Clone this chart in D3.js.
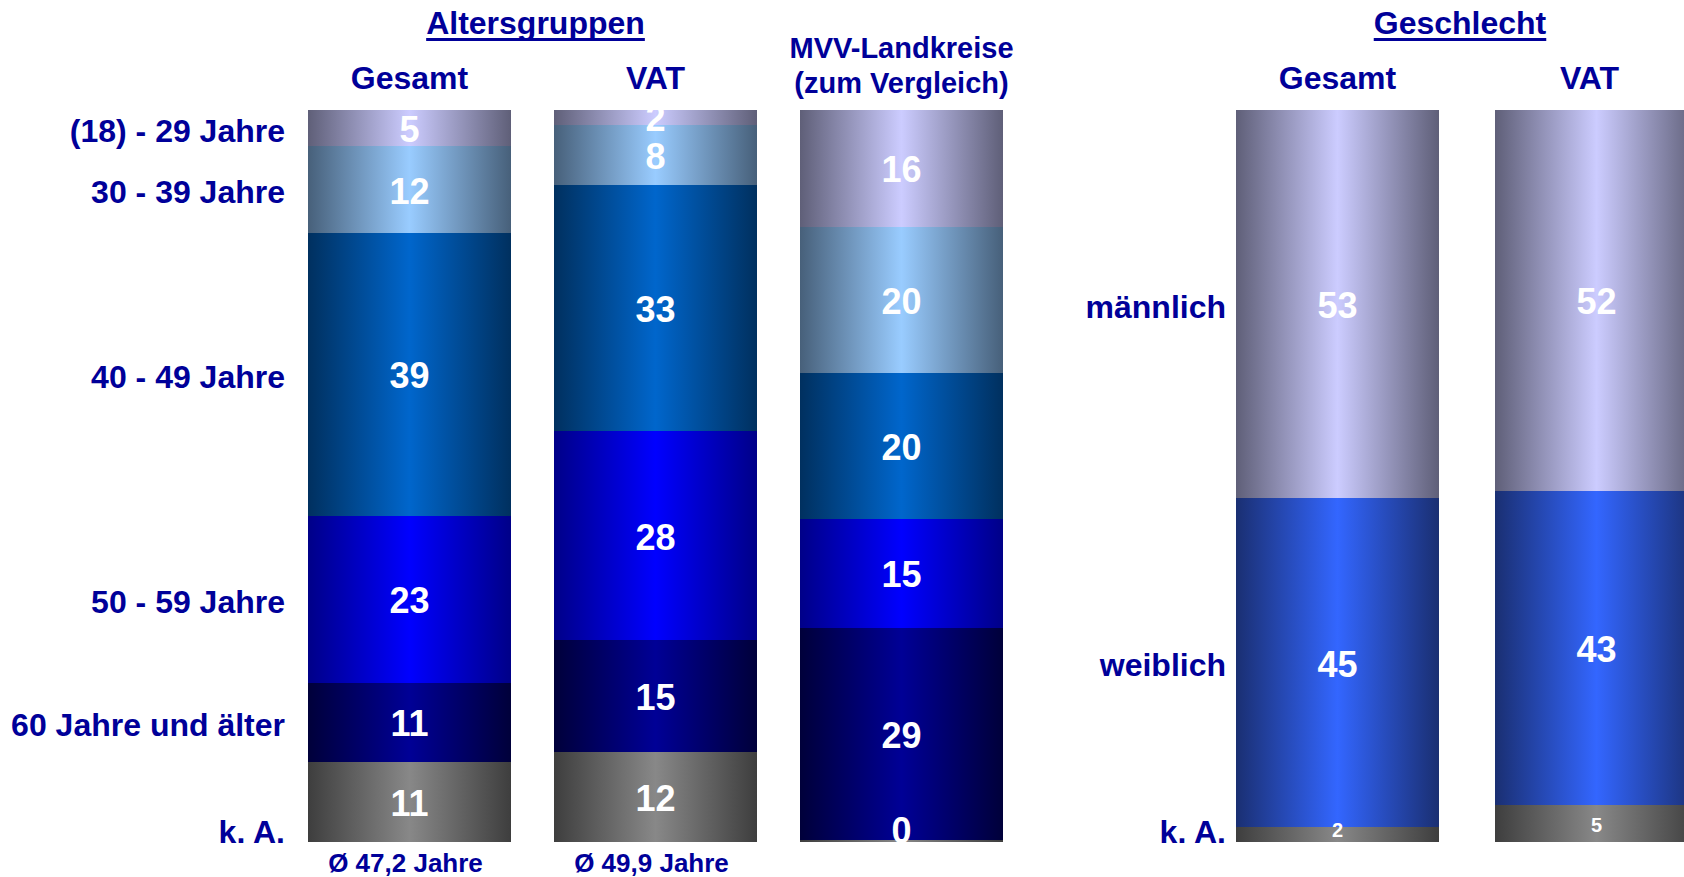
<!DOCTYPE html>
<html>
<head>
<meta charset="utf-8">
<script src="https://cdn.jsdelivr.net/npm/d3@7"></script>
<style>
  html, body { margin: 0; padding: 0; background: #ffffff; overflow: hidden; }
  text { font-family: "Liberation Sans", Arial, Helvetica, sans-serif; font-weight: bold; }
</style>
</head>
<body>
<svg id="chart" width="1684" height="877"></svg>
<script>
// ---------------- DATA ----------------
const ageCategories = ["(18) - 29 Jahre", "30 - 39 Jahre", "40 - 49 Jahre", "50 - 59 Jahre", "60 Jahre und älter", "k. A."];
const ageGroups = ["Gesamt", "VAT", "MVV-Landkreise|(zum Vergleich)"];
const ageGesamt = [5, 12, 39, 23, 11, 11];
const ageVAT = [2, 8, 33, 28, 15, 12];
const ageMVV = [16, 20, 20, 15, 29, 0.3];
const ageAverages = ["Ø 47,2 Jahre", "Ø 49,9 Jahre", ""];

const genderCategories = ["männlich", "weiblich", "k. A."];
const genderGroups = ["Gesamt", "VAT"];
const genderGesamt = [53, 45, 2];
const genderVAT = [52, 43, 5];

const titles = ["Altersgruppen", "Geschlecht"];

// ---------------- STYLE ----------------
const W = 1684, H = 877;
const navy = "#000099";
const ageColors = [
  ["#5f5f78", "#ccccff"],
  ["#47607a", "#99ccff"],
  ["#00305f", "#0066cc"],
  ["#000088", "#0000ff"],
  ["#00003a", "#000096"],
  ["#3e3e3e", "#888888"]
];
const genderColors = [
  ["#5f5f78", "#ccccff"],
  ["#1a2f72", "#3366ff"],
  ["#3e3e3e", "#888888"]
];

const svg = d3.select("#chart");
const defs = svg.append("defs");

function makeGradient(id, edge, center) {
  const g = defs.append("linearGradient").attr("id", id)
    .attr("x1", "0").attr("x2", "1").attr("y1", "0").attr("y2", "0");
  g.append("stop").attr("offset", "0").attr("stop-color", edge);
  g.append("stop").attr("offset", "0.5").attr("stop-color", center);
  g.append("stop").attr("offset", "1").attr("stop-color", edge);
}
ageColors.forEach((c, i) => makeGradient("ag" + i, c[0], c[1]));
genderColors.forEach((c, i) => makeGradient("gg" + i, c[0], c[1]));

// ---------------- SCALES ----------------
const y = d3.scaleLinear().domain([0, 1]).range([110, 842]);
const xAge = d3.scaleBand().domain(ageGroups).range([308, 1003]).paddingInner(43 / 246).paddingOuter(0);
const xGender = d3.scaleBand().domain(genderGroups).range([1236, 1698]).paddingInner(56 / 259).paddingOuter(0);

function buildTable(groups, categories, seriesList) {
  return groups.map((g, gi) => {
    const row = { group: g };
    categories.forEach((c, ci) => { row[c] = seriesList[gi][ci]; });
    return row;
  });
}

const fmt = d3.format(".0f");

function drawChart(opts) {
  const { groups, categories, series, x, gradPrefix, labelSize, title, leftGap, titleShift } = opts;
  const table = buildTable(groups, categories, series);
  const stack = d3.stack().keys(categories).offset(d3.stackOffsetExpand);
  const layers = stack(table);
  const g = svg.append("g");

  // bars (slight overlap to avoid hairline seams)
  layers.forEach((layer, li) => {
    g.selectAll(null).data(layer).enter().append("rect")
      .attr("x", d => x(d.data.group))
      .attr("width", x.bandwidth())
      .attr("y", d => Math.round(y(d[0])))
      .attr("height", d => Math.max(0, Math.round(y(d[1])) - Math.round(y(d[0]))) + (li < layers.length - 1 ? 1 : 0))
      .attr("fill", "url(#" + gradPrefix + li + ")");
  });
  // minimal visible sliver for near-zero last segment
  const lastLayer = layers[layers.length - 1];
  g.selectAll(null).data(lastLayer.filter(d => y(d[1]) - y(d[0]) < 2)).enter().append("rect")
    .attr("x", d => x(d.data.group))
    .attr("width", x.bandwidth())
    .attr("y", y(1) - 2)
    .attr("height", 2)
    .attr("fill", "url(#" + gradPrefix + (layers.length - 1) + ")");

  // value labels
  layers.forEach((layer, li) => {
    const fs = labelSize(li);
    g.selectAll(null).data(layer).enter().append("text")
      .attr("x", d => x(d.data.group) + x.bandwidth() / 2)
      .attr("y", d => Math.min((y(d[0]) + y(d[1])) / 2 + 1, y(1) - 12))
      .attr("dy", "0.36em")
      .attr("text-anchor", "middle")
      .attr("fill", "#ffffff")
      .attr("font-size", fs + "px")
      .text(d => fmt(d.data[layer.key]));
  });

  // category labels (left), based on the first bar
  const first = groups[0];
  const labelX = x(first) - leftGap;
  layers.forEach((layer, li) => {
    const d = layer[0];
    const isLast = li === layers.length - 1;
    const t = g.append("text")
      .attr("x", labelX)
      .attr("text-anchor", "end")
      .attr("fill", navy)
      .attr("font-size", "32px")
      .text(layer.key);
    if (isLast) {
      t.attr("y", y(1) + 1);
    } else {
      t.attr("y", (y(d[0]) + y(d[1])) / 2 + 2).attr("dy", "0.36em");
    }
  });

  // group headers
  groups.forEach(grp => {
    const lines = grp.split("|");
    const x0 = x(grp), x1 = Math.min(x(grp) + x.bandwidth(), W);
    const cx = (x0 + x1) / 2;
    const fs = lines.length > 1 ? 29 : 32;
    const base = lines.length > 1 ? 93 : 89;
    lines.forEach((ln, i) => {
      g.append("text")
        .attr("x", cx)
        .attr("y", base - (lines.length - 1 - i) * 35)
        .attr("text-anchor", "middle")
        .attr("fill", navy)
        .attr("font-size", fs + "px")
        .text(ln);
    });
  });

  // title with underline, centered over first two bars
  const tx = (x(groups[0]) + x(groups[1]) + x.bandwidth()) / 2 + titleShift;
  const tt = g.append("text")
    .attr("x", tx).attr("y", 34)
    .attr("text-anchor", "middle")
    .attr("fill", navy)
    .attr("font-size", "32px")
    .text(title);
  const tw = tt.node().getComputedTextLength();
  g.append("rect").attr("x", tx - tw / 2).attr("y", 38).attr("width", tw).attr("height", 3).attr("fill", navy);

  return g;
}

const ageChart = drawChart({
  groups: ageGroups, categories: ageCategories, series: [ageGesamt, ageVAT, ageMVV],
  x: xAge, gradPrefix: "ag", labelSize: () => 36, title: titles[0], leftGap: 23, titleShift: 3
});

drawChart({
  groups: genderGroups, categories: genderCategories, series: [genderGesamt, genderVAT],
  x: xGender, gradPrefix: "gg", labelSize: i => (i === genderCategories.length - 1 ? 20 : 36),
  title: titles[1], leftGap: 10, titleShift: -7
});

// averages below age bars
ageChart.selectAll(null).data(ageGroups.map((g, i) => ({ g, t: ageAverages[i] }))).enter()
  .append("text")
  .attr("x", d => xAge(d.g) + xAge.bandwidth() / 2 - 4)
  .attr("y", 872)
  .attr("text-anchor", "middle")
  .attr("fill", navy)
  .attr("font-size", "26px")
  .text(d => d.t);
</script>
</body>
</html>
